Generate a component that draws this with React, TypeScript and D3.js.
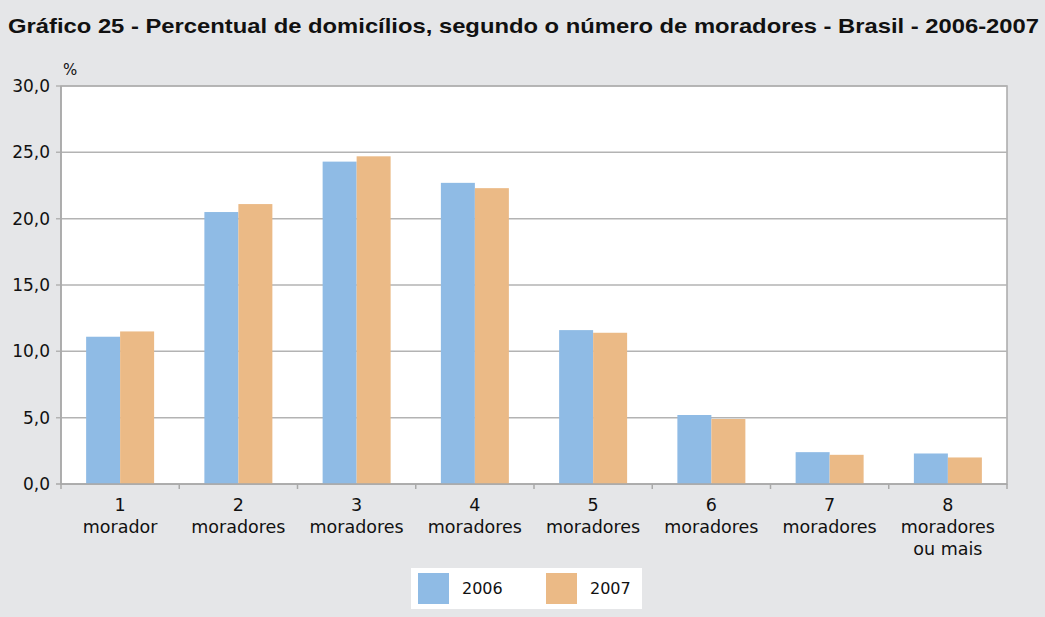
import React, { useEffect, useRef } from "react";
import * as d3 from "d3";

const categories = ["1|morador", "2|moradores", "3|moradores", "4|moradores", "5|moradores", "6|moradores", "7|moradores", "8|moradores|ou mais"];
const values2006 = [11.1, 20.5, 24.3, 22.7, 11.6, 5.2, 2.4, 2.3];
const values2007 = [11.5, 21.1, 24.7, 22.3, 11.4, 4.9, 2.2, 2.0];
const years = ["2006", "2007"];
const yTicks = [0, 5, 10, 15, 20, 25, 30];

const colors = ["#8fbbe5", "#ebba86"];
const W = 1045;
const H = 617;

const App: React.FC = () => {
  const svgRef = useRef<SVGSVGElement | null>(null);

  useEffect(() => {
    if (!svgRef.current) return;
    const svg = d3.select(svgRef.current);
    svg.selectAll("*").remove();

    const font = "'DejaVu Sans', Verdana, sans-serif";
    const left = 61, right = 1007, top = 86, bottom = 484;

    svg.append("rect").attr("width", W).attr("height", H).attr("fill", "#e5e6e8");

    svg.append("text")
      .attr("x", 8).attr("y", 33)
      .attr("font-family", "'Liberation Sans Narrow', 'Liberation Sans', Arial, sans-serif")
      .attr("font-weight", "bold").attr("font-size", 21)
      .attr("textLength", 1031).attr("lengthAdjust", "spacingAndGlyphs")
      .attr("fill", "#111")
      .text("Gráfico 25 - Percentual de domicílios, segundo o número de moradores - Brasil - 2006-2007");

    const x = d3.scaleBand().domain(categories).range([left, right]).paddingInner(0).paddingOuter(0);
    const y = d3.scaleLinear().domain([0, 30]).range([bottom, top]);
    const bw = x.bandwidth() * 0.2875;

    svg.append("rect")
      .attr("x", left).attr("y", top).attr("width", right - left).attr("height", bottom - top)
      .attr("fill", "#fff").attr("stroke", "#a9a9a9").attr("stroke-width", 1.5);

    // gridlines
    svg.append("g").selectAll("line").data(yTicks.slice(1)).enter().append("line")
      .attr("x1", left - 5).attr("x2", right)
      .attr("y1", (d) => y(d)).attr("y2", (d) => y(d))
      .attr("stroke", "#b3b3b3").attr("stroke-width", 1.5);

    // bars
    const series = [values2006, values2007];
    series.forEach((vals, si) => {
      svg.append("g").selectAll("rect").data(vals).enter().append("rect")
        .attr("x", (_, i) => x(categories[i])! + x.bandwidth() / 2 - bw + si * bw)
        .attr("y", (d) => y(d))
        .attr("width", bw)
        .attr("height", (d) => bottom - y(d))
        .attr("fill", colors[si]);
    });

    // axes
    svg.append("line").attr("x1", left - 5).attr("x2", right).attr("y1", bottom).attr("y2", bottom)
      .attr("stroke", "#a9a9a9").attr("stroke-width", 1.5);
    svg.append("line").attr("x1", left).attr("x2", left).attr("y1", top).attr("y2", bottom + 5)
      .attr("stroke", "#a9a9a9").attr("stroke-width", 1.5);

    const bounds = categories.map((c) => x(c)!).concat([right]);
    svg.append("g").selectAll("line").data(bounds.slice(1)).enter().append("line")
      .attr("x1", (d) => d).attr("x2", (d) => d)
      .attr("y1", bottom).attr("y2", bottom + 5)
      .attr("stroke", "#a9a9a9").attr("stroke-width", 1.5);

    svg.append("g").selectAll("text").data(yTicks).enter().append("text")
      .attr("x", 50).attr("y", (d) => y(d) + 6)
      .attr("text-anchor", "end")
      .attr("font-family", font).attr("font-size", 17).attr("fill", "#111")
      .text((d) => d3.format(".1f")(d).replace(".", ","));

    svg.append("text").attr("x", 63).attr("y", 75)
      .attr("font-family", font).attr("font-size", 15).attr("fill", "#111").text("%");

    categories.forEach((c) => {
      const lines = c.split("|");
      const cx = x(c)! + x.bandwidth() / 2;
      lines.forEach((ln, li) => {
        svg.append("text")
          .attr("x", cx).attr("y", 511 + li * 22)
          .attr("text-anchor", "middle")
          .attr("font-family", font).attr("font-size", 17.5).attr("fill", "#111")
          .text(ln);
      });
    });

    // legend
    svg.append("rect").attr("x", 411).attr("y", 568).attr("width", 231).attr("height", 41).attr("fill", "#fff");
    const legX = [418, 546];
    years.forEach((yr, i) => {
      svg.append("rect").attr("x", legX[i]).attr("y", 573).attr("width", 31).attr("height", 31).attr("fill", colors[i]);
      svg.append("text").attr("x", legX[i] + 44).attr("y", 594)
        .attr("font-family", font).attr("font-size", 16).attr("fill", "#111").text(yr);
    });
  }, []);

  return <svg ref={svgRef} width={W} height={H} style={{ position: "absolute", left: 0, top: 0 }} />;
};

export default App;
